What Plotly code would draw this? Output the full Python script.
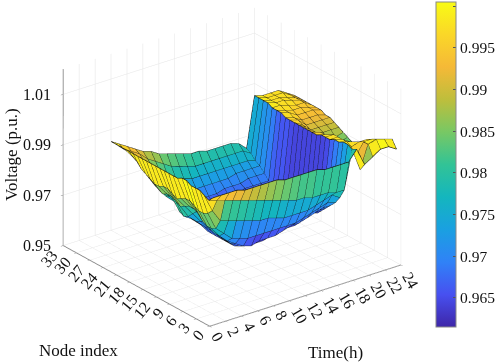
import plotly.graph_objects as go

times = list(range(1, 25))
nodes = list(range(1, 25))
voltage = [
 [.999,.997,.998,.999,.999,.999,1.00,1.00,.999,.999,.999,.999,.999,.999,.999,.999,.999,.999,.999,.999,.999,.999,.999,.999],
 [.999,.996,.991,.989,.988,.988,.989,.990,.990,.989,.988,.989,.990,.990,.989,.989,.990,.991,.992,.994,.995,.996,.996,.997],
 [.999,.995,.986,.982,.981,.981,.982,.984,.985,.985,.984,.983,.984,.985,.985,.984,.985,.986,.988,.990,.992,.993,.994,.995],
 [.999,.994,.985,.979,.977,.977,.979,.981,.982,.982,.980,.978,.977,.978,.981,.982,.981,.982,.984,.986,.988,.990,.992,.993],
 [.998,.993,.984,.976,.974,.974,.975,.976,.977,.977,.976,.975,.975,.975,.977,.978,.978,.979,.980,.982,.984,.987,.989,.991],
 [.998,.992,.983,.975,.972,.971,.971,.971,.972,.972,.972,.972,.972,.972,.973,.974,.974,.975,.976,.978,.981,.984,.987,.990],
 [.998,.991,.982,.974,.970,.969,.968,.968,.968,.968,.968,.968,.968,.969,.970,.971,.971,.972,.973,.975,.978,.981,.985,.988],
 [.998,.990,.981,.974,.969,.968,.967,.967,.967,.967,.967,.967,.967,.967,.968,.969,.969,.970,.971,.973,.976,.979,.983,.987],
 [.998,.989,.981,.974,.970,.968,.967,.967,.966,.966,.966,.966,.966,.966,.967,.968,.968,.969,.970,.972,.975,.978,.982,.986],
 [.997,.988,.980,.974,.970,.968,.967,.967,.966,.966,.966,.965,.965,.966,.966,.967,.968,.969,.970,.971,.974,.977,.981,.985],
 [.997,.987,.979,.974,.970,.969,.968,.967,.966,.966,.965,.965,.965,.965,.966,.967,.968,.968,.969,.971,.974,.977,.980,.984],
 [.997,.986,.979,.974,.971,.969,.968,.967,.966,.966,.966,.966,.966,.966,.966,.967,.968,.969,.970,.971,.974,.977,.980,.984],
 [.997,.986,.979,.974,.972,.970,.968,.967,.966,.966,.966,.966,.966,.966,.966,.967,.968,.969,.970,.972,.974,.977,.980,.983],
 [.997,.985,.979,.975,.972,.970,.969,.968,.967,.966,.966,.966,.966,.966,.967,.968,.968,.969,.970,.972,.974,.977,.980,.983],
 [.996,.985,.980,.976,.973,.971,.970,.968,.967,.967,.966,.966,.966,.966,.967,.968,.969,.970,.971,.972,.975,.977,.980,.983],
 [.996,.985,.981,.977,.974,.972,.970,.969,.968,.967,.967,.966,.966,.966,.967,.968,.969,.970,.971,.973,.975,.977,.980,.983],
 [.996,.984,.982,.978,.975,.973,.971,.970,.969,.968,.967,.966,.966,.966,.967,.968,.969,.970,.971,.973,.975,.977,.980,.982],
 [.996,.984,.980,.977,.975,.973,.971,.969,.968,.967,.966,.966,.966,.967,.968,.969,.970,.970,.971,.973,.975,.976,.978,.979],
 [1.00,.999,1.00,1.00,.999,.999,.998,.998,.998,.997,.997,.997,.997,.997,.997,.997,.997,.998,.998,.998,.999,.999,.999,.999],
 [.993,.990,.994,.997,.998,.998,.998,.998,.997,.996,.996,.995,.995,.995,.995,.996,.996,.997,.997,.998,.998,.998,.998,.998],
 [.995,.999,.999,.998,.997,.996,.995,.994,.993,.992,.991,.991,.991,.992,.992,.993,.994,.995,.996,.997,.998,.998,.998,.998],
 [.997,1.00,.999,.998,.996,.995,.993,.992,.991,.990,.989,.989,.990,.991,.992,.993,.994,.995,.996,.996,.997,.997,.998,.998],
 [.997,.999,.998,.997,.995,.993,.992,.991,.990,.989,.988,.988,.989,.991,.992,.993,.994,.995,.995,.996,.996,.996,.996,.996],
 [.995,.998,.997,.996,.994,.992,.991,.990,.989,.988,.988,.989,.990,.991,.992,.993,.993,.994,.994,.994,.994,.994,.994,.994],
]
time_ticks = list(range(0, 25, 2))
node_ticks = list(range(0, 34, 3))
z_ticks = [0.95, 0.97, 0.99, 1.01]
z_labels = ["0.95", "0.97", "0.99", "1.01"]
cbar_ticks = [0.965, 0.97, 0.975, 0.98, 0.985, 0.99, 0.995, 1]
cbar_text = ["0.965", "0.97", "0.975", "0.98", "0.985", "0.99", "0.995", "1"]

parula = [
 [0.0, "rgb(62,38,168)"], [0.1, "rgb(71,80,240)"], [0.2, "rgb(48,130,247)"],
 [0.3, "rgb(26,160,225)"], [0.4, "rgb(20,182,190)"], [0.5, "rgb(50,195,150)"],
 [0.6, "rgb(120,200,100)"], [0.7, "rgb(190,190,60)"], [0.8, "rgb(245,185,55)"],
 [0.9, "rgb(250,215,40)"], [1.0, "rgb(249,251,21)"],
]

nt, nn = len(times), len(nodes)
X, Y, Z = [], [], []
for i in range(nt):
    for j in range(nn):
        X.append(times[i]); Y.append(nodes[j]); Z.append(voltage[i][j])
I, J, K, C = [], [], [], []
for i in range(nt - 1):
    for j in range(nn - 1):
        a = i * nn + j; b = (i + 1) * nn + j; c = (i + 1) * nn + j + 1; d = i * nn + j + 1
        I += [a, a]; J += [b, c]; K += [c, d]
        v = voltage[i][j + 1]
        C += [max(0.9645, v - 0.004 * min(1.0, (1.0 - v) / 0.012))] * 2

lx, ly, lz = [], [], []
for i in range(nt):
    for j in range(nn):
        lx.append(times[i]); ly.append(nodes[j]); lz.append(voltage[i][j])
    lx.append(None); ly.append(None); lz.append(None)
for j in range(nn):
    for i in range(nt):
        lx.append(times[i]); ly.append(nodes[j]); lz.append(voltage[i][j])
    lx.append(None); ly.append(None); lz.append(None)

SERIF = "Liberation Serif"
FONT = dict(family=SERIF, size=16, color="#111")
TITLE = dict(family=SERIF, size=17, color="#111")
fig = go.Figure()
fig.add_trace(go.Mesh3d(
    x=X, y=Y, z=Z, i=I, j=J, k=K, intensity=C, intensitymode="cell",
    colorscale=parula, cmin=0.9615, cmax=1.0005, flatshading=True,
    lighting=dict(ambient=1, diffuse=0, specular=0, roughness=1, fresnel=0),
    hoverinfo="skip",
    colorbar=dict(
        x=436/498, xanchor="left", xref="paper", y=1-327/363, yanchor="bottom", yref="paper",
        len=325/363, lenmode="fraction", thickness=20, thicknessmode="pixels",
        outlinecolor="#888", outlinewidth=1, tickvals=cbar_ticks, ticktext=cbar_text,
        ticks="inside", ticklen=3, tickcolor="#555",
        tickfont=dict(family=SERIF, size=15.5, color="#111"), xpad=0, ypad=0),
))
fig.add_trace(go.Scatter3d(x=lx, y=ly, z=lz, mode="lines",
    line=dict(color="#111", width=1.4), showlegend=False, hoverinfo="skip"))

def axis(rng, ticks):
    return dict(range=rng, tickvals=ticks, title=dict(text=""), showticklabels=False,
        showbackground=False, showgrid=True, gridcolor="#e4e4e4", gridwidth=1,
        showline=True, linecolor="#888", linewidth=2, zeroline=False, showspikes=False,
        ticks="outside", ticklen=3, tickcolor="#888")

def label(text, x, y, angle=0):
    return dict(text=text, x=x/498, y=1-y/363, xref="paper", yref="paper", showarrow=False,
                xanchor="center", yanchor="middle", textangle=angle, font=TITLE)

tick_notes = []
for v, s in zip(z_ticks, z_labels):
    tick_notes.append(dict(x=0, y=33, z=v, text=s, showarrow=False, xanchor="right", yanchor="middle",
                           xshift=-10, font=FONT))
for v in node_ticks:
    tick_notes.append(dict(x=0, y=v, z=0.95, text=str(v), showarrow=False, textangle=-50,
                           xshift=-14 if v >= 10 else -12, yshift=-13 if v >= 10 else -9, font=FONT))
for v in time_ticks:
    tick_notes.append(dict(x=v, y=0, z=0.95, text=str(v), showarrow=False, textangle=60,
                           xshift=10 if v >= 10 else 8, yshift=-15 if v >= 10 else -10, font=FONT))

fig.update_layout(
    width=498, height=363, margin=dict(l=0, r=0, t=0, b=0), paper_bgcolor="white",
    showlegend=False,
    scene=dict(
        domain=dict(x=[0, 1], y=[0, 1]),
        aspectmode="manual", aspectratio=dict(x=1.325, y=1.331, z=1.071),
        xaxis=axis([0, 24], time_ticks),
        yaxis=axis([0, 33], node_ticks),
        zaxis=axis([0.95, 1.02], z_ticks),
        annotations=tick_notes,
        camera=dict(projection=dict(type="orthographic"),
            eye=dict(x=-1.0483, y=-1.5244, z=0.7679), center=dict(x=0.0517, y=-0.0814, z=-0.0721), up=dict(x=0, y=0, z=1)),
    ),
    annotations=[label("Voltage (p.u.)", 11, 154, -90), label("Node index", 79, 350), label("Time(h)", 336, 352)],
)
fig.write_html("out.html", post_script="document.body.style.margin='0';", config={"displayModeBar": False})
